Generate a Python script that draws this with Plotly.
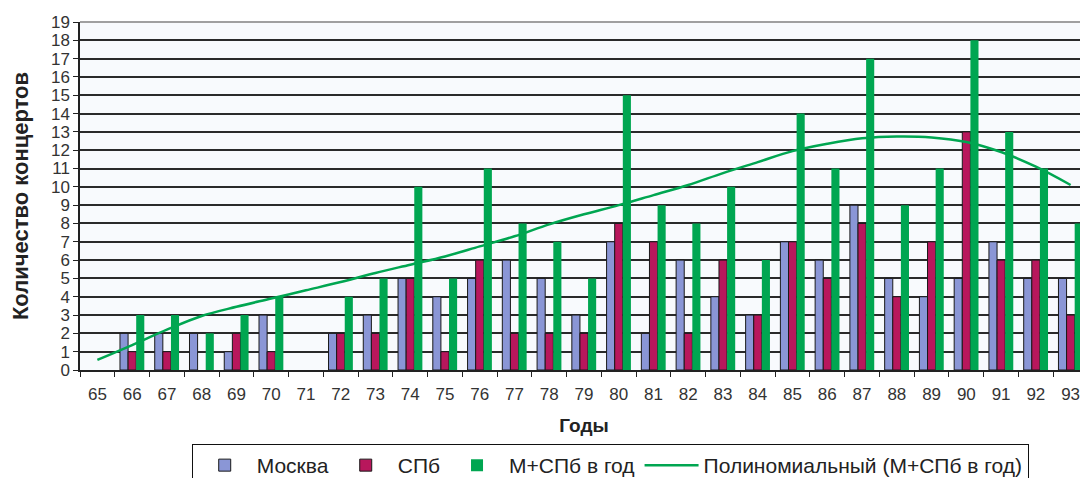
import plotly.graph_objects as go

years = ["65", "66", "67", "68", "69", "70", "71", "72", "73", "74", "75", "76", "77", "78", "79",
         "80", "81", "82", "83", "84", "85", "86", "87", "88", "89", "90", "91", "92", "93"]
moscow = [0, 2, 2, 2, 1, 3, 0, 2, 3, 5, 4, 5, 6, 5, 3, 7, 2, 6, 4, 3, 7, 6, 9, 5, 4, 5, 7, 5, 5]
spb = [0, 1, 1, 0, 2, 1, 0, 2, 2, 5, 1, 6, 2, 2, 2, 8, 7, 2, 6, 3, 7, 5, 8, 4, 7, 13, 6, 6, 3]
total = [0, 3, 3, 2, 3, 4, 0, 4, 5, 10, 5, 11, 8, 7, 5, 15, 9, 8, 10, 6, 14, 11, 17, 9, 11, 18, 13, 11, 8]
trend = [0.55, 1.36, 2.2, 2.95, 3.45, 3.9, 4.35, 4.8, 5.3, 5.75, 6.2, 6.75, 7.3, 7.95, 8.5,
         9.0, 9.55, 10.1, 10.75, 11.35, 11.95, 12.35, 12.65, 12.75, 12.7, 12.45, 11.9, 11.1, 10.1]

names = ["Москва", "СПб", "М+СПб в год", "Полиномиальный (М+СПб в год)"]
colors = ["#8a96d6", "#b8175c", "#00a651", "#00a651"]


def nz(vals):
    # zero-height bars are not drawn in the original
    return [v if v else None for v in vals]


fig = go.Figure()
fig.add_trace(go.Bar(x=years, y=nz(moscow), name=names[0],
                     marker=dict(color=colors[0], line=dict(color="#1a1a1a", width=1))))
fig.add_trace(go.Bar(x=years, y=nz(spb), name=names[1],
                     marker=dict(color=colors[1], line=dict(color="#1a1a1a", width=1))))
fig.add_trace(go.Bar(x=years, y=nz(total), name=names[2],
                     marker=dict(color=colors[2], line=dict(width=0))))
fig.add_trace(go.Scatter(x=years, y=trend, name=names[3], mode="lines",
                         line=dict(color=colors[3], width=2.5, shape="spline")))

font_main = "Liberation Sans, Arial, sans-serif"

# page body has an 8px margin, so the figure is sized/offset accordingly
fig.update_layout(
    width=1080, height=470,
    margin=dict(l=72, r=0, t=14, b=108, autoexpand=False),
    paper_bgcolor="white",
    plot_bgcolor="#f8fafd",
    barmode="group",
    bargap=0.3,
    bargroupgap=0,
    font=dict(family=font_main, color="#333333", size=17),
    showlegend=True,
    legend=dict(
        orientation="h",
        x=0.526, xanchor="center",
        y=-0.2126, yanchor="top",
        bordercolor="#111111", borderwidth=1,
        bgcolor="white",
        font=dict(size=21, color="#222222", family=font_main),
        itemwidth=54,
        tracegroupgap=0,
    ),
    xaxis=dict(
        type="category",
        automargin=False,
        tickson="boundaries",
        ticks="outside", ticklen=5, tickcolor="#222222",
        showline=True, linecolor="#222222", linewidth=1.5,
        showgrid=False,
        ticklabelstandoff=8,
        tickfont=dict(size=17, color="#333333"),
        title=dict(text="<b>Годы</b>", font=dict(size=19, color="#222222"), standoff=16),
    ),
    yaxis=dict(
        range=[0, 19], dtick=1,
        automargin=False,
        ticks="outside", ticklen=5, tickcolor="#222222",
        showline=True, linecolor="#222222", linewidth=1.5,
        showgrid=True, gridcolor="#2a2a2a", gridwidth=1.5,
        zeroline=False,
        tickfont=dict(size=17, color="#333333"),
        title=dict(text="<b>Количество концертов</b>", font=dict(size=22, color="#222222"), standoff=16),
    ),
    shapes=[dict(type="line", xref="paper", yref="paper", x0=0, x1=1, y0=1, y1=1,
                 line=dict(color="#a0a0a0", width=2), layer="above")],
)

fig.write_html("out.html")
